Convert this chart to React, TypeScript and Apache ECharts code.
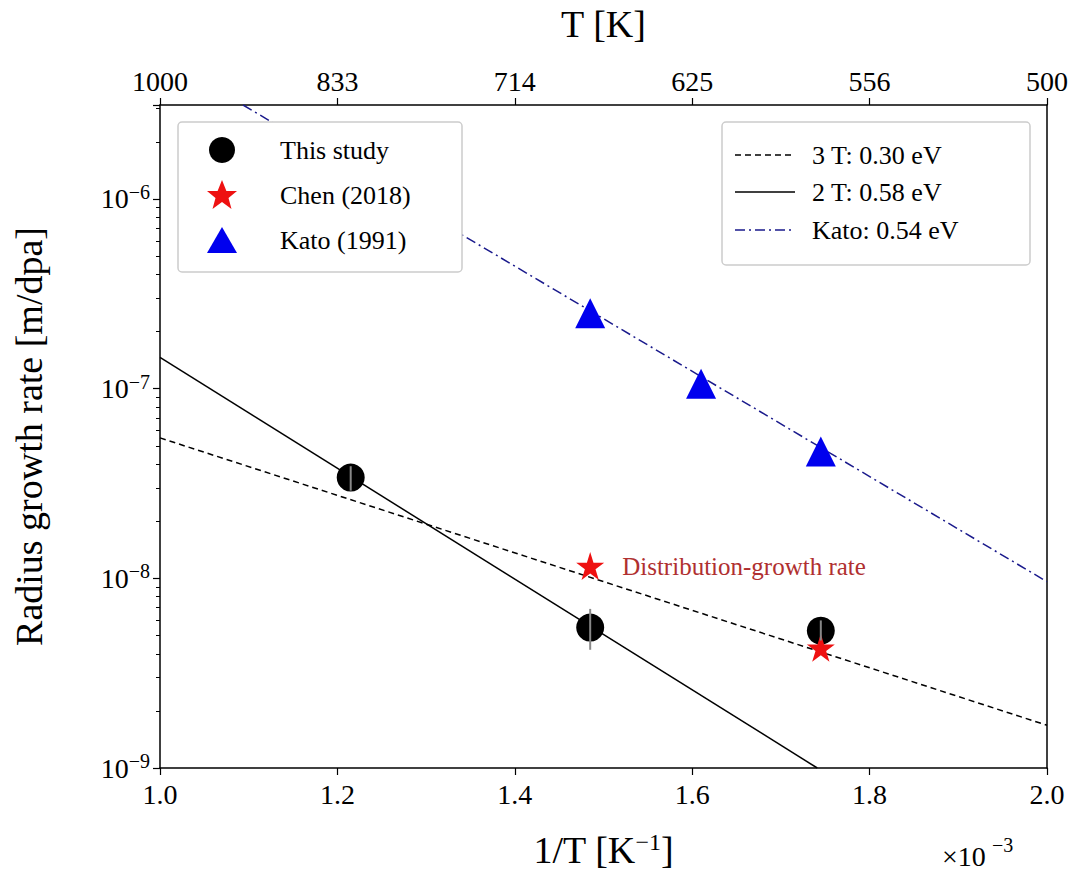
import React, { useEffect, useRef } from "react";
import * as echarts from "echarts";

const thisStudyX = [1.215, 1.485, 1.745];
const thisStudyY = [3.4e-8, 5.5e-9, 5.3e-9];
const errLow = [2.9e-8, 4.2e-9, 4.7e-9];
const errHigh = [3.9e-8, 6.9e-9, 6.0e-9];
const chenX = [1.485, 1.745];
const chenY = [1.16e-8, 4.3e-9];
const katoX = [1.485, 1.61, 1.745];
const katoY = [2.5e-7, 1.06e-7, 4.66e-8];
const fit3TX = [1.0, 2.0];
const fit3TY = [5.5e-8, 1.68e-9];
const fit2TX = [1.0, 1.741];
const fit2TY = [1.46e-7, 1e-9];
const fitKatoX = [1.0936, 2.0];
const fitKatoY = [3.13e-6, 9.6e-9];
const topTicks = ["1000", "833", "714", "625", "556", "500"];

const F = "'Liberation Serif', 'DejaVu Serif', serif";
const sup: Record<string, string> = { "-": "−", "0": "0", "1": "1", "2": "2", "3": "3", "4": "4", "5": "5", "6": "6", "7": "7", "8": "8", "9": "9" };

export default function App() {
  const ref = useRef<HTMLDivElement>(null);
  useEffect(() => {
    const chart = echarts.init(ref.current!, null, { renderer: "svg" });
    const zip = (xs: number[], ys: number[]) => xs.map((x, i) => [x, ys[i]]);
    const series: any[] = [
      { type: "line", data: zip(fit3TX, fit3TY), symbol: "none", lineStyle: { color: "#000", width: 1.5, type: [6, 4] } },
      { type: "line", data: zip(fit2TX, fit2TY), symbol: "none", lineStyle: { color: "#000", width: 1.5 } },
      { type: "line", data: zip(fitKatoX, fitKatoY), symbol: "none", lineStyle: { color: "#1a1a8c", width: 1.5, type: [10, 4, 2, 4] } },
      { type: "scatter", data: zip(katoX, katoY), symbol: "triangle", symbolSize: 30, itemStyle: { color: "#0000ee", opacity: 1 }, z: 5 },
      { type: "scatter", data: zip(thisStudyX, thisStudyY), symbol: "circle", symbolSize: 28, itemStyle: { color: "#000", opacity: 1 }, z: 5 },
      {
        type: "scatter",
        data: chenX.map((x, i) =>
          i === 0
            ? { value: [x, chenY[i]], label: { show: true, position: "right", distance: 18, formatter: "Distribution-growth rate", color: "#b03030", fontFamily: F, fontSize: 25 } }
            : [x, chenY[i]]
        ),
        symbol: "path://M50,0 L61.8,36 L100,36 L69,58.5 L80.9,95 L50,72.5 L19.1,95 L31,58.5 L0,36 L38.2,36 Z",
        symbolSize: 28, itemStyle: { color: "#ee1111", opacity: 1 }, z: 6,
      },
    ];
    thisStudyX.forEach((x, i) => {
      series.push({ type: "line", data: [[x, errLow[i]], [x, errHigh[i]]], symbol: "none", lineStyle: { color: "#888", width: 2 }, z: 7 });
    });
    const axisCommon = {
      axisLine: { lineStyle: { color: "#000", width: 1.5 } },
      axisTick: { inside: false, length: 7, lineStyle: { color: "#000", width: 1.2 } },
      splitLine: { show: false },
    };
    const legText = (x: number, y: number, t: string) => ({ type: "text", x, y, style: { text: t, font: `26px ${F}`, fill: "#000", verticalAlign: "middle" } });
    chart.setOption({
      animation: false,
      grid: { left: 160, right: 33, top: 103, bottom: 122 },
      xAxis: [
        { type: "value", min: 1.0, max: 2.0, interval: 0.2, position: "bottom", ...axisCommon,
          axisLabel: { fontFamily: F, fontSize: 28, color: "#000", margin: 12, formatter: (v: number) => v.toFixed(1) },
          name: "1/T [K{s|−1}]", nameLocation: "middle", nameGap: 62,
          nameTextStyle: { fontFamily: F, fontSize: 38, color: "#000", rich: { s: { fontFamily: F, fontSize: 24, verticalAlign: "top", padding: [0, 0, 16, 0] } } } },
        { type: "value", min: 1.0, max: 2.0, interval: 0.2, position: "top", ...axisCommon,
          axisLabel: { fontFamily: F, fontSize: 28, color: "#000", margin: 10, formatter: (v: number) => topTicks[Math.round((v - 1) / 0.2)] },
          name: "T [K]", nameLocation: "middle", nameGap: 62, nameTextStyle: { fontFamily: F, fontSize: 38, color: "#000" } },
      ],
      yAxis: [
        {
          type: "log", min: 1e-9, max: 3.13e-6, logBase: 10, ...axisCommon,
          minorTick: { show: true, splitNumber: 9, length: 4, lineStyle: { color: "#000" } },
          axisLabel: {
            fontFamily: F, fontSize: 28, color: "#000", margin: 10, showMaxLabel: false,
            formatter: (v: number) => {
              const e = Math.round(Math.log10(v));
              return "10{s|" + String(e).split("").map((c) => sup[c]).join("") + "}";
            },
            rich: { s: { fontFamily: F, fontSize: 20, verticalAlign: "top", padding: [0, 0, 14, 0] } },
          },
          name: "Radius growth rate [m/dpa]", nameLocation: "middle", nameGap: 112,
          nameTextStyle: { fontFamily: F, fontSize: 38, color: "#000" },
        },
        { type: "log", min: 1e-9, max: 3.13e-6, logBase: 10, position: "right", axisLine: { show: true, lineStyle: { color: "#000", width: 1.5 } }, axisTick: { show: false }, axisLabel: { show: false }, splitLine: { show: false } },
      ],
      series,
      graphic: [
        { type: "text", x: 942, y: 842, style: { text: "×10", font: `28px ${F}`, fill: "#000" } },
        { type: "text", x: 992, y: 835, style: { text: "−3", font: `20px ${F}`, fill: "#000" } },
        { type: "rect", shape: { x: 178, y: 122, width: 284, height: 150, r: 4 }, style: { fill: "#fff", stroke: "#ccc", lineWidth: 1.5 }, z: 10 },
        { type: "circle", shape: { cx: 222, cy: 150, r: 13 }, style: { fill: "#000" }, z: 11 },
        { type: "polygon", shape: { points: [[222, 180], [226.4, 191], [237, 191], [228.5, 198], [231.5, 209], [222, 202], [212.5, 209], [215.5, 198], [207, 191], [217.6, 191]] }, style: { fill: "#ee1111" }, z: 11 },
        { type: "polygon", shape: { points: [[222, 227], [237, 253], [207, 253]] }, style: { fill: "#0000ee" }, z: 11 },
        { ...legText(280, 150, "This study"), z: 11 },
        { ...legText(280, 195, "Chen (2018)"), z: 11 },
        { ...legText(280, 240, "Kato (1991)"), z: 11 },
        { type: "rect", shape: { x: 722, y: 122, width: 308, height: 143, r: 4 }, style: { fill: "#fff", stroke: "#ccc", lineWidth: 1.5 }, z: 10 },
        { type: "line", shape: { x1: 735, y1: 155, x2: 795, y2: 155 }, style: { stroke: "#000", lineWidth: 1.5, lineDash: [6, 4] }, z: 11 },
        { type: "line", shape: { x1: 735, y1: 192, x2: 795, y2: 192 }, style: { stroke: "#000", lineWidth: 1.5 }, z: 11 },
        { type: "line", shape: { x1: 735, y1: 230, x2: 795, y2: 230 }, style: { stroke: "#1a1a8c", lineWidth: 1.5, lineDash: [10, 4, 2, 4] }, z: 11 },
        { ...legText(812, 155, "3 T: 0.30 eV"), z: 11 },
        { ...legText(812, 192, "2 T: 0.58 eV"), z: 11 },
        { ...legText(812, 230, "Kato: 0.54 eV"), z: 11 },
      ],
    });
    return () => chart.dispose();
  }, []);
  return <div ref={ref} style={{ position: "absolute", left: 0, top: 0, width: 1080, height: 890, background: "#fff" }} />;
}
